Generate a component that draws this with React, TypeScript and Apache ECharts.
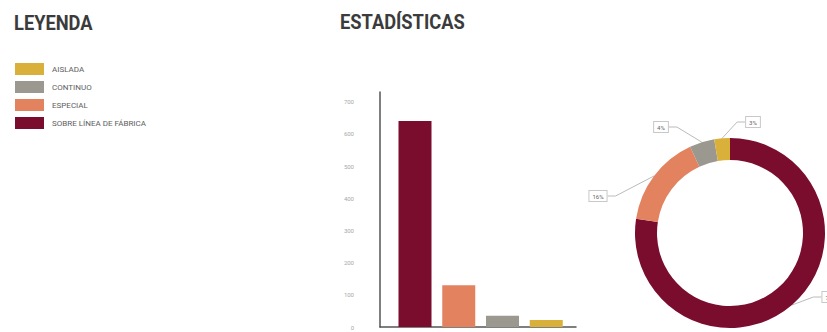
import React, { useEffect, useRef } from "react";
import * as echarts from "echarts";

const categories = ["SOBRE LÍNEA DE FÁBRICA", "ESPECIAL", "CONTINUO", "AISLADA"];
const values = [640, 130, 35, 22];
const colors = ["#7a0d2e", "#e3825f", "#9b9890", "#d9b13a"];
const legendOrder = ["AISLADA", "CONTINUO", "ESPECIAL", "SOBRE LÍNEA DE FÁBRICA"];
const yTicks = [0, 100, 200, 300, 400, 500, 600, 700];

// anchor points (centre) of the pie percentage boxes, by data index
const pieLabelAnchors: [number, number][] = [
  [831, 297],
  [598, 196],
  [661, 127],
  [753, 122],
];

export default function App() {
  const ref = useRef<HTMLDivElement>(null);
  useEffect(() => {
    if (!ref.current) return;
    const chart = echarts.init(ref.current, null, { renderer: "svg" });
    const font = "Roboto, 'Noto Sans', sans-serif";
    chart.setOption({
      animation: false,
      backgroundColor: "#ffffff",
      textStyle: { fontFamily: font },
      graphic: [
        {
          type: "text",
          x: 14,
          y: 13,
          scaleX: 0.87,
          style: { text: "LEYENDA", fontSize: 21, fontWeight: "bold", fill: "#3b3b3b", fontFamily: font },
        },
        {
          type: "text",
          x: 340,
          y: 12,
          scaleX: 0.87,
          style: { text: "ESTADÍSTICAS", fontSize: 21, fontWeight: "bold", fill: "#3b3b3b", fontFamily: font },
        },
      ],
      legend: {
        data: legendOrder,
        orient: "vertical",
        left: 10,
        top: 58,
        itemWidth: 29,
        itemHeight: 12,
        itemGap: 6,
        icon: "rect",
        selectedMode: false,
        textStyle: { fontSize: 8, color: "#5e5e5e", fontFamily: font, padding: [0, 0, 0, 3] },
      },
      grid: { left: 380, top: 92, width: 196, height: 235 },
      xAxis: {
        type: "value",
        min: -0.8,
        max: 3.68,
        axisLine: { show: true, onZero: false, lineStyle: { color: "#555", width: 1.5 } },
        axisTick: { show: false },
        axisLabel: { show: false },
        splitLine: { show: false },
      },
      yAxis: {
        type: "value",
        min: 0,
        max: 730,
        interval: 100,
        axisLine: { show: true, onZero: false, lineStyle: { color: "#555", width: 1.5 } },
        axisTick: { show: false },
        splitLine: { show: false },
        axisLabel: {
          fontSize: 6,
          color: "#a8a8a8",
          margin: 26,
          formatter: (v: number) => (yTicks.includes(v) ? String(v) : ""),
        },
      },
      series: [
        {
          type: "bar",
          barWidth: 33,
          data: values.map((v, i) => ({ value: [i, v], itemStyle: { color: colors[i] } })),
        },
        {
          type: "pie",
          center: [730, 233],
          radius: [73, 95],
          startAngle: 90,
          clockwise: true,
          percentPrecision: 0,
          avoidLabelOverlap: false,
          data: categories.map((c, i) => ({ name: c, value: values[i], itemStyle: { color: colors[i] } })),
          label: {
            formatter: "{d}%",
            fontSize: 6,
            color: "#666",
            borderColor: "#c8c8c8",
            borderWidth: 1,
            padding: [2, 3],
            backgroundColor: "#fff",
          },
          labelLine: { length: 14, length2: 8, lineStyle: { color: "#bbb", width: 1 } },
          labelLayout: (params: any) => {
            const a = pieLabelAnchors[params.dataIndex];
            if (!a) return {};
            return { x: a[0], y: a[1], align: "center", verticalAlign: "middle" };
          },
        },
      ],
    });
    return () => chart.dispose();
  }, []);
  return <div ref={ref} style={{ position: "fixed", left: 0, top: 0, width: 827, height: 332 }} />;
}
